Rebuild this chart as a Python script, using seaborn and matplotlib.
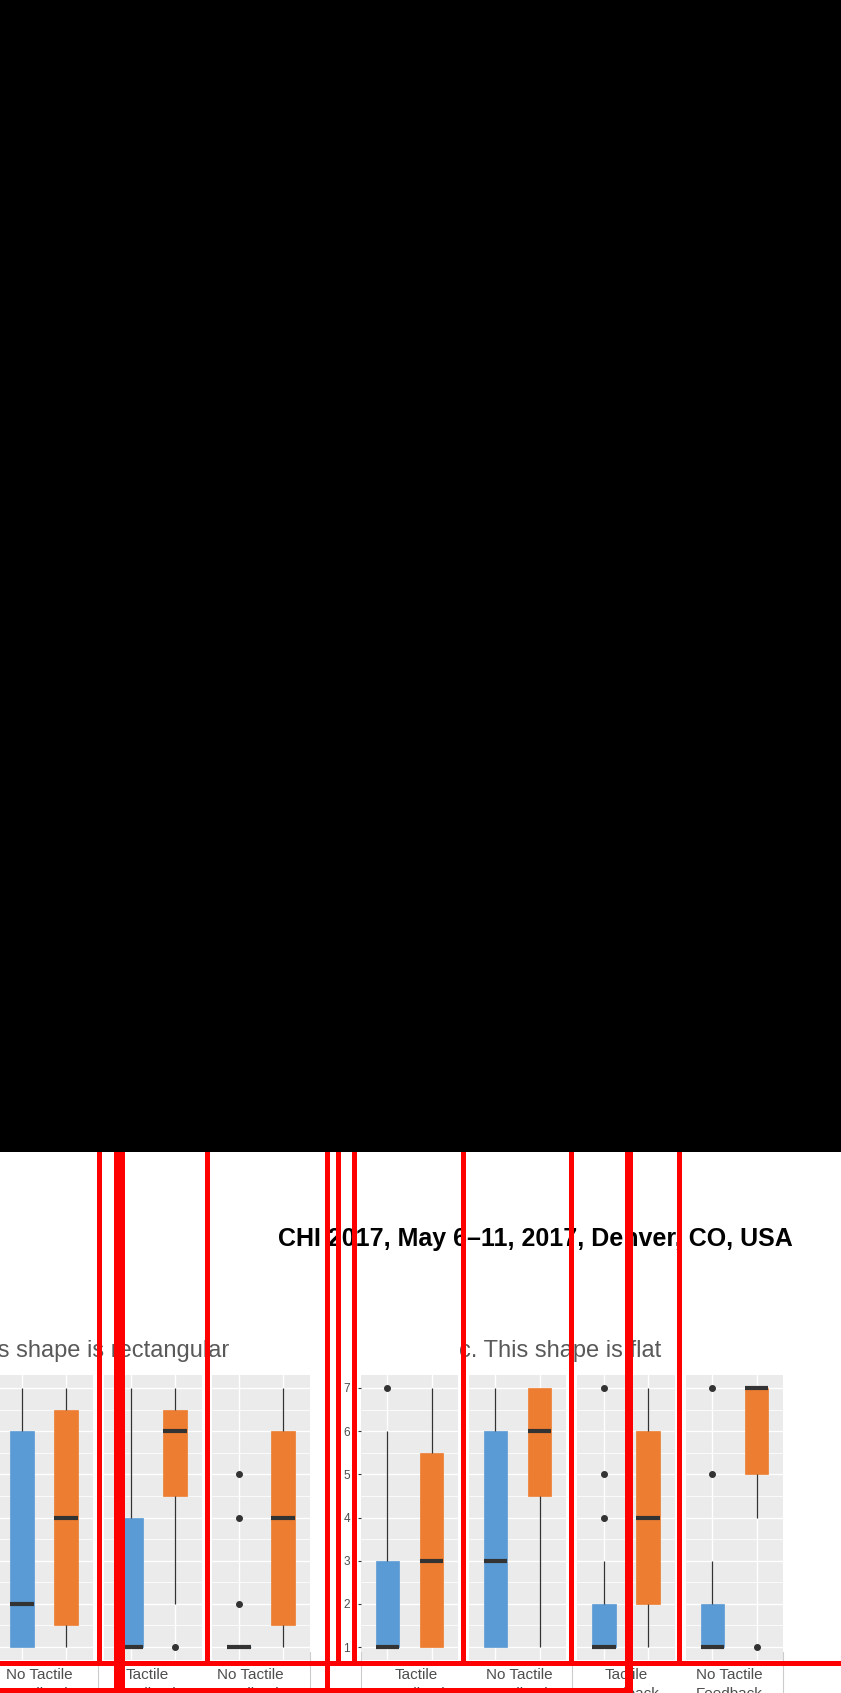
import numpy as np
import pandas as pd
import matplotlib
matplotlib.use('Agg')
import matplotlib.pyplot as plt
from matplotlib.patches import Rectangle
import seaborn as sns

W, H = 841, 1693

## Data: 1-7 ratings behind each box (blue answer, orange answer)
answers = ['A', 'B']
colors = ['#5B9BD5', '#ED7D31']

# b. This shape is rectangular (only the last three panels are visible)
b_labels = ['No Tactile\nFeedback', 'Tactile\nFeedback', 'No Tactile\nFeedback']
b1_blue = [1, 1, 1, 1, 1, 2, 2, 2, 3, 5, 6, 6, 7, 7, 7]
b1_orange = [1, 1, 1, 1, 2, 3, 4, 4, 5, 6, 6, 7, 7, 7, 7]
b2_blue = [1, 1, 1, 1, 1, 1, 1, 1, 2, 3, 4, 4, 5, 6, 7]
b2_orange = [1, 2, 3, 4, 5, 5, 6, 6, 6, 6, 6, 7, 7, 7, 7]
b3_blue = [1, 1, 1, 1, 1, 1, 1, 1, 1, 1, 1, 1, 2, 4, 5]
b3_orange = [1, 1, 1, 1, 2, 3, 4, 4, 5, 6, 6, 6, 7, 7, 7]

# c. This shape is flat
c_labels = ['Tactile\nFeedback', 'No Tactile\nFeedback', 'Tactile\nFeedback', 'No Tactile\nFeedback']
c1_blue = [1, 1, 1, 1, 1, 1, 1, 1, 2, 3, 3, 3, 4, 6, 7]
c1_orange = [1, 1, 1, 1, 1, 2, 2, 3, 4, 5, 5, 6, 6, 7, 7]
c2_blue = [1, 1, 1, 1, 1, 2, 2, 3, 4, 5, 6, 6, 7, 7, 7]
c2_orange = [1, 2, 3, 4, 5, 5, 6, 6, 6, 6, 7, 7, 7, 7, 7]
c3_blue = [1, 1, 1, 1, 1, 1, 1, 1, 1, 1, 1, 3, 4, 5, 7]
c3_orange = [1, 1, 2, 2, 2, 3, 4, 4, 5, 6, 6, 6, 7, 7, 7]
c4_blue = [1, 1, 1, 1, 1, 1, 1, 1, 1, 1, 1, 3, 3, 5, 7]
c4_orange = [1, 4, 5, 5, 5, 6, 7, 7, 7, 7, 7, 7, 7, 7, 7]

y_ticks = [1, 2, 3, 4, 5, 6, 7]

sns.set_theme(style='darkgrid')
plt.rcParams['font.family'] = ['Liberation Sans', 'DejaVu Sans']

fig = plt.figure(figsize=(W / 100, H / 100), dpi=100)
fig.patch.set_facecolor('white')

PANEL_TOP, PANEL_BOTTOM = 1375, 1660


def px_rect(x0, x1, y0, y1):
    return [x0 / W, 1 - y1 / H, (x1 - x0) / W, (y1 - y0) / H]


def draw_panel(x0, x1, blue, orange, show_y=False):
    ax = fig.add_axes(px_rect(x0, x1, PANEL_TOP, PANEL_BOTTOM))
    df = pd.DataFrame({'answer': [answers[0]] * len(blue) + [answers[1]] * len(orange),
                       'rating': blue + orange})
    sns.boxplot(data=df, x='answer', y='rating', hue='answer', palette=colors,
                saturation=1, width=0.54, whis=1.5, showcaps=False,
                linecolor='#333333', legend=False, ax=ax,
                medianprops={'linewidth': 3.0, 'color': '#333333', 'solid_capstyle': 'butt'},
                whiskerprops={'linewidth': 0.9, 'color': '#333333'},
                flierprops={'marker': 'o', 'markersize': 4, 'markerfacecolor': '#333333',
                            'markeredgecolor': '#333333'})
    for p in ax.patches:
        p.set_edgecolor(p.get_facecolor())
        p.set_linewidth(0.5)
    # thick median bars, as in ggplot
    for line in ax.lines:
        xd, yd = line.get_data()
        if len(xd) == 2 and yd[0] == yd[1] and xd[0] != xd[1] and line.get_visible():
            line.set_linewidth(3.0)
            line.set_solid_capstyle('butt')
            line.set_color('#333333')
    ax.set_facecolor('#EBEBEB')
    ax.set_xlim(-0.6, 1.6)
    ax.set_ylim(0.7, 7.3)
    ax.set_yticks(y_ticks)
    ax.set_yticks(np.arange(1.5, 7, 1), minor=True)
    ax.set_axisbelow(True)
    ax.grid(which='major', color='white', linewidth=1.0)
    ax.grid(which='minor', axis='y', color='white', linewidth=0.55)
    ax.xaxis.grid(True, which='major', color='white', linewidth=1.0)
    ax.set_xlabel('')
    ax.set_ylabel('')
    ax.set_xticklabels([])
    ax.tick_params(axis='x', bottom=False, labelbottom=False)
    for s in ax.spines.values():
        s.set_visible(False)
    if show_y:
        ax.tick_params(axis='y', which='major', left=True, labelleft=True, length=2.5,
                       width=0.8, color='#333333', labelsize=8.5, labelcolor='#4D4D4D', pad=5.5)
        ax.tick_params(axis='y', which='minor', left=False)
    else:
        ax.tick_params(axis='y', which='both', left=False, labelleft=False)
    return ax


b_panels = [(-5, 93), (104, 202), (212, 310)]
c_panels = [(361, 458), (469, 566), (577, 675), (686, 783)]

draw_panel(*b_panels[0], b1_blue, b1_orange)
draw_panel(*b_panels[1], b2_blue, b2_orange)
draw_panel(*b_panels[2], b3_blue, b3_orange)
draw_panel(*c_panels[0], c1_blue, c1_orange, show_y=True)
draw_panel(*c_panels[1], c2_blue, c2_orange)
draw_panel(*c_panels[2], c3_blue, c3_orange)
draw_panel(*c_panels[3], c4_blue, c4_orange)

# condition labels under the panels
label_x = [39.5, 147, 250, 416.5, 519.5, 626, 729]
for lx, lab in zip(label_x, b_labels + c_labels):
    fig.text(lx / W, 1 - 1668 / H, lab, ha='center', va='top', fontsize=11,
             color='#4D4D4D', linespacing=1.45)

# light separators of the label row
for sx in [98, 310, 361, 572, 783]:
    fig.add_artist(plt.Line2D([sx / W, sx / W], [1 - 1652 / H, 0], color='#CCCCCC',
                              linewidth=0.8, transform=fig.transFigure))

# titles
fig.text(229 / W, 1 - 1357 / H, 'b. This shape is rectangular', ha='right', va='baseline',
         fontsize=17, color='#595959')
fig.text(459 / W, 1 - 1357 / H, 'c. This shape is flat', ha='left', va='baseline',
         fontsize=17, color='#595959')
fig.text(793 / W, 1 - 1246 / H, 'CHI 2017, May 6\u201311, 2017, Denver, CO, USA', ha='right',
         va='baseline', fontsize=18, fontweight='bold', color='black')

# black block over the top of the page
fig.add_artist(Rectangle((0, 1 - 1152 / H), 1, 1152 / H, transform=fig.transFigure,
                         facecolor='black', edgecolor='none', zorder=20))

# red marker lines over the page
red_boxes = [
    (97, 102, 1152, 1666), (114, 125, 1152, 1693), (205, 210, 1152, 1666),
    (325, 330, 1152, 1693), (336, 341, 1152, 1666), (352, 357, 1152, 1666),
    (461, 466, 1152, 1666), (569, 574, 1152, 1666), (625, 633, 1152, 1693),
    (677, 682, 1152, 1666),
    (0, 841, 1661, 1666), (0, 633, 1688, 1693),
]
for x0, x1, y0, y1 in red_boxes:
    fig.add_artist(Rectangle((x0 / W, 1 - y1 / H), (x1 - x0) / W, (y1 - y0) / H,
                             transform=fig.transFigure, facecolor='red', edgecolor='none',
                             zorder=21))

fig.savefig('out.png', dpi=100)
